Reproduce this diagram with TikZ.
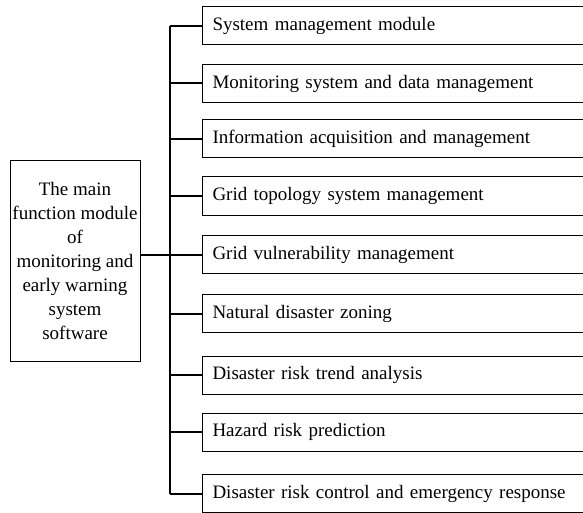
\documentclass[tikz,border=0pt]{standalone}
\usepackage{fontspec}
\setmainfont{Liberation Serif}
\usetikzlibrary{positioning}
\tikzset{node distance = 2cm}

\begin{document}
\begin{tikzpicture}[x=1pt, y=-1pt, font=\fontsize{19}{24}\selectfont,
module_box/.style={rectangle, draw=black, line width=1pt, anchor=west, text width=362pt, inner xsep=10pt, inner ysep=0pt, minimum height=38pt, align=left},
main_box/.style={rectangle, draw=black, line width=1pt, minimum width=130pt, minimum height=200pt, inner sep=0pt, align=center},
branch/.style={line width=2pt}]
    \useasboundingbox (0,0) rectangle (583,513);
    \clip (0,0) rectangle (583,513);

    \node[main_box] (main) at (75,261) {The main\\function module\\of\\monitoring and\\early warning\\system\\software};

    \node[module_box] (m1) at (202,26) {System management module};
    \node[module_box] (m2) at (202,83.5) {Monitoring system and data management};
    \node[module_box] (m3) at (202,139) {Information acquisition and management};
    \node[module_box] (m4) at (202,196) {Grid topology system management};
    \node[module_box] (m5) at (202,254.5) {Grid vulnerability management};
    \node[module_box] (m6) at (202,313.5) {Natural disaster zoning};
    \node[module_box] (m7) at (202,375) {Disaster risk trend analysis};
    \node[module_box] (m8) at (202,432) {Hazard risk prediction};
    \node[module_box] (m9) at (202,493.5) {Disaster risk control and emergency response};

    \coordinate (spine) at (170,0);
    \draw[branch] (spine |- m1.west) -- (spine |- m9.west);
    \draw[branch] (main.east |- m5.west) -- (m5.west);
    \foreach \i in {1,2,3,4,6,7,8,9}
        \draw[branch] (spine |- m\i.west) -- (m\i.west);
\end{tikzpicture}
\end{document}
